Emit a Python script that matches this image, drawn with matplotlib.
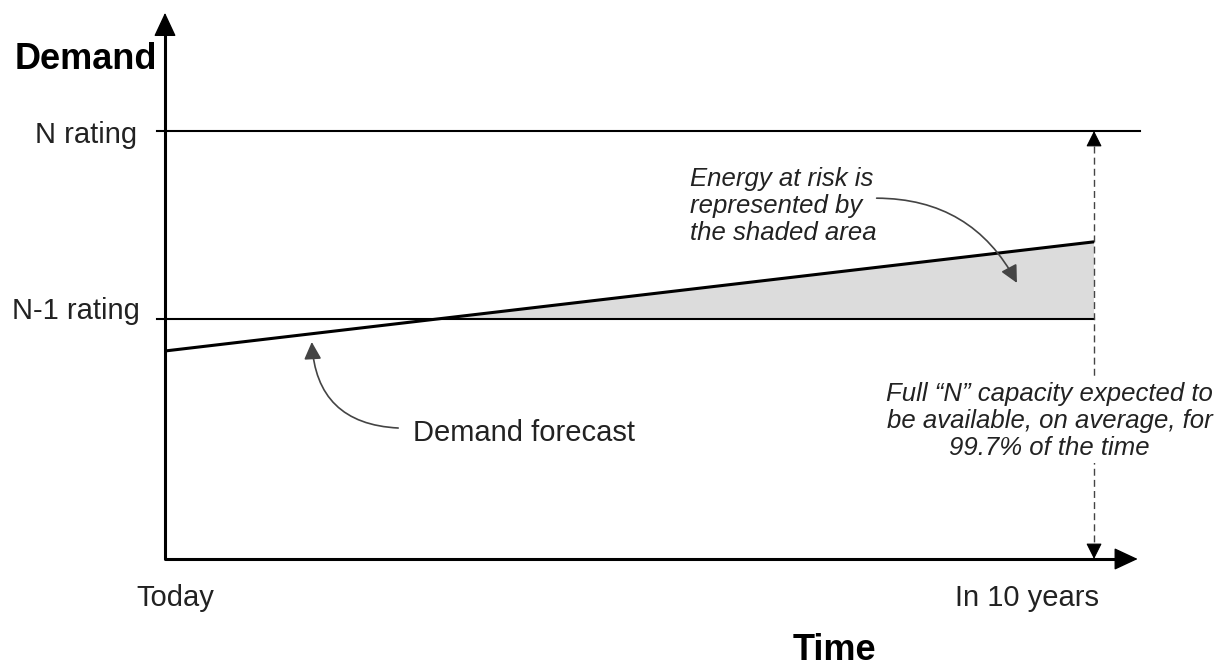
"""Energy-at-risk schematic: demand forecast vs N and N-1 ratings."""
import numpy as np
import matplotlib.pyplot as plt

plt.rcParams["font.family"] = ["Liberation Sans", "DejaVu Sans"]

# data (years from today, demand in arbitrary units with N rating = 100)
years = np.array([0.0, 10.0])
forecast = np.array([48.6, 74.1])
n_rating = 100.0
n1_rating = 56.1
x_end = 10.47
y_end = 127.6

TXT = "#222222"
ANN = "#444444"

fig = plt.figure(figsize=(12.19, 6.66), dpi=100)
ax = fig.add_axes([0, 0, 1, 1])
ax.set_xlim(-1.776, 11.345)
ax.set_ylim(-25.0, 130.6)
ax.axis("off")

# shaded energy at risk
n1 = np.full_like(years, n1_rating)
ax.fill_between(years, n1, forecast, where=forecast > n1, interpolate=True,
                color="#dcdcdc", lw=0, zorder=1)

# rating lines
ax.plot([-0.09, 10.49], [n_rating, n_rating], color="k", lw=1.5, zorder=2)
ax.plot([-0.09, years[-1]], [n1_rating, n1_rating], color="k", lw=1.5, zorder=2)
ax.plot(years, forecast, color="k", lw=2.2, solid_capstyle="butt", zorder=3)

# axes with arrow heads
head = "-|>,head_length=0.75,head_width=0.35"
ax.plot([0, 0, x_end - 0.1], [y_end - 3, 0, 0], color="k", lw=2.2,
        solid_joinstyle="round", zorder=4)
ax.annotate("", xy=(0, y_end), xytext=(0, y_end - 4.5),
            arrowprops=dict(arrowstyle=head, color="k", lw=1, mutation_scale=20,
                            shrinkA=0, shrinkB=0), zorder=4)
ax.annotate("", xy=(x_end, 0), xytext=(x_end - 0.2, 0),
            arrowprops=dict(arrowstyle=head, color="k", lw=1, mutation_scale=20,
                            shrinkA=0, shrinkB=0), zorder=4)

# dashed double arrow at 10 years
ax.plot([years[-1], years[-1]], [1.5, n_rating - 1.5], color="#444444", lw=1.0,
        ls=(0, (5, 3)), zorder=2)
small = "-|>,head_length=0.7,head_width=0.35"
for y0, y1 in [(n_rating - 2.5, n_rating), (2.5, 0.0)]:
    ax.annotate("", xy=(years[-1], y1), xytext=(years[-1], y0),
                arrowprops=dict(arrowstyle=small, color="k", lw=0.8,
                                mutation_scale=14, shrinkA=0, shrinkB=0), zorder=3)

# curved annotation arrows
ax.annotate("", xy=(9.17, 64.5), xytext=(7.66, 84.3),
            arrowprops=dict(arrowstyle=small, color=ANN, lw=1.2, mutation_scale=15,
                            connectionstyle="arc3,rad=-0.3", shrinkA=0, shrinkB=0),
            zorder=5)
ax.annotate("", xy=(1.58, 50.7), xytext=(2.51, 30.6),
            arrowprops=dict(arrowstyle=small, color=ANN, lw=1.2, mutation_scale=15,
                            connectionstyle="arc3,rad=-0.45", shrinkA=0, shrinkB=0),
            zorder=5)

# labels
ax.text(-1.62, 116.6, "Demand", fontsize=26, fontweight="bold", color="k",
        ha="left", va="center")
ax.text(7.21, -21.3, "Time", fontsize=26, fontweight="bold", color="k",
        ha="center", va="center")
ax.text(-0.30, 99.1, "N rating", fontsize=21, color=TXT, ha="right", va="center")
ax.text(-0.27, 57.9, "N-1 rating", fontsize=21, color=TXT, ha="right", va="center")
ax.text(0.108, -9.1, "Today", fontsize=21, color=TXT, ha="center", va="center")
ax.text(9.28, -9.1, "In 10 years", fontsize=21, color=TXT, ha="center", va="center")
ax.text(2.67, 29.4, "Demand forecast", fontsize=21, color=TXT, ha="left", va="center")
ax.text(5.65, 82.5, "Energy at risk is\nrepresented by\nthe shaded area",
        fontsize=18.5, style="italic", color=TXT, ha="left", va="center",
        linespacing=1.15)
ax.text(9.52, 32.2, "Full \u201cN\u201d capacity expected to\nbe available, on average, for\n99.7% of the time",
        fontsize=18.5, style="italic", color=TXT, ha="center", va="center",
        multialignment="center", linespacing=1.15, zorder=6,
        bbox=dict(fc="white", ec="none", pad=2))

fig.savefig("out.png", dpi=100)
